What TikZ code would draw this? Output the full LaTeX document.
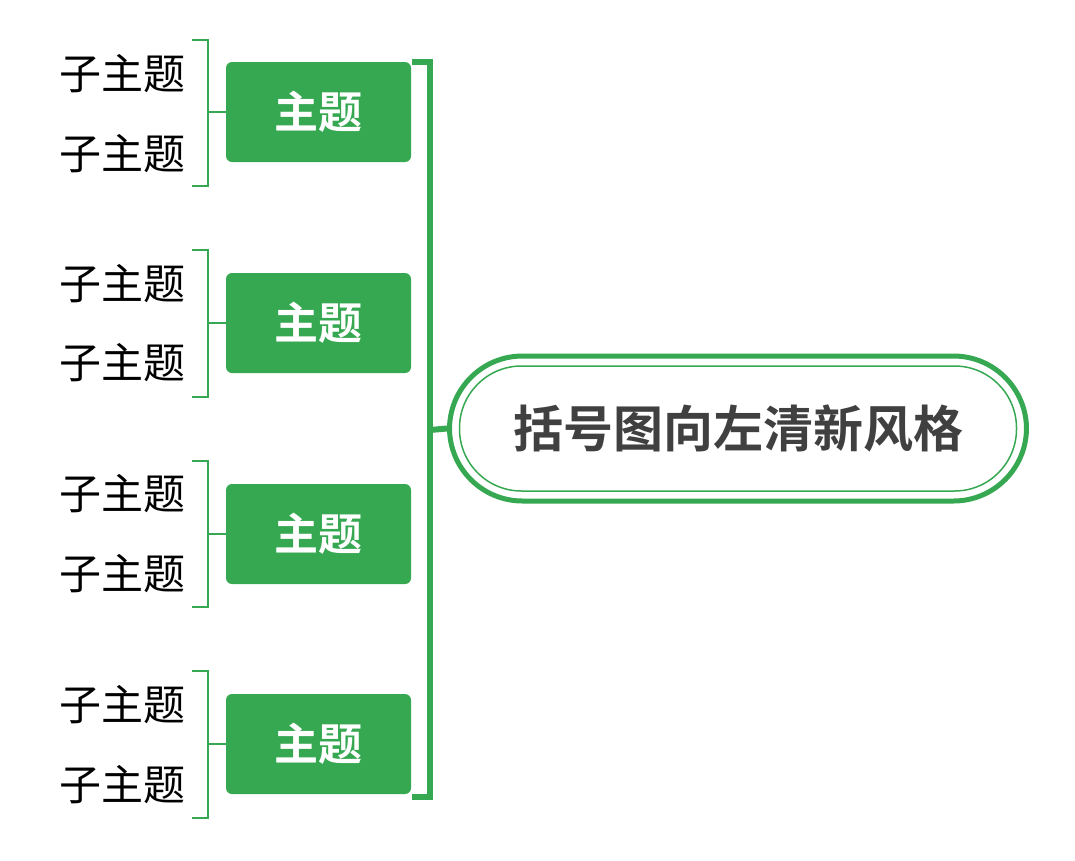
\documentclass[tikz,border=0pt]{standalone}
\usepackage{fontspec}
\newfontfamily\cjk{Noto Sans CJK SC}
\newfontfamily\cjkb{Noto Sans CJK SC Bold}
\definecolor{gr}{HTML}{36A852}
\definecolor{dk}{HTML}{404040}
\begin{document}
\begin{tikzpicture}[x=1pt,y=-1pt,
  topic/.style={fill=gr,rounded corners=6pt,minimum width=185pt,minimum height=100pt,inner sep=0pt,text=white,font=\cjkb\fontsize{44}{46}\selectfont},
  sub/.style={font=\cjk\fontsize{42}{44}\selectfont,text=black,inner sep=0pt},
  thin/.style={draw=gr,line width=1.5pt},
  thick/.style={draw=gr,line width=6pt}]
\useasboundingbox (0,0) rectangle (1075,860);
\node[draw=gr,line width=5pt,rounded corners=73pt,minimum width=577pt,minimum height=145pt,inner sep=0pt] (c) at (738,428.5) {};
\node[draw=gr,line width=1.5pt,rounded corners=62pt,minimum width=557pt,minimum height=125pt,inner sep=0pt,font=\cjkb\fontsize{50}{52}\selectfont,text=dk] (ci) at (738,428.5) {括号图向左清新风格};
\coordinate (bt) at (430,62);
\coordinate (bb) at (430,797);
\coordinate (bm) at (430,430);
\draw[thick] (412,62) -- (bt) -- (bb) -- (412,797);
\draw[thick] (bm) -- (c.west);
\foreach \i/\y/\a/\b/\t/\u in {1/112/40/186/74/154, 2/323/250/397/284/363, 3/534/461/607/494/574, 4/744/671/818/705/785}{
  \node[topic] (t\i) at (318.5,\y) {主题};
  \coordinate (s\i) at (208,\y);
  \draw[thin] (192,\a) -- (208,\a) -- (208,\b) -- (192,\b);
  \draw[thin] (s\i) -- (t\i.west);
  \node[sub] (a\i) at (122,\t) {子主题};
  \node[sub] (b\i) at (122,\u) {子主题};
}
\end{tikzpicture}
\end{document}
